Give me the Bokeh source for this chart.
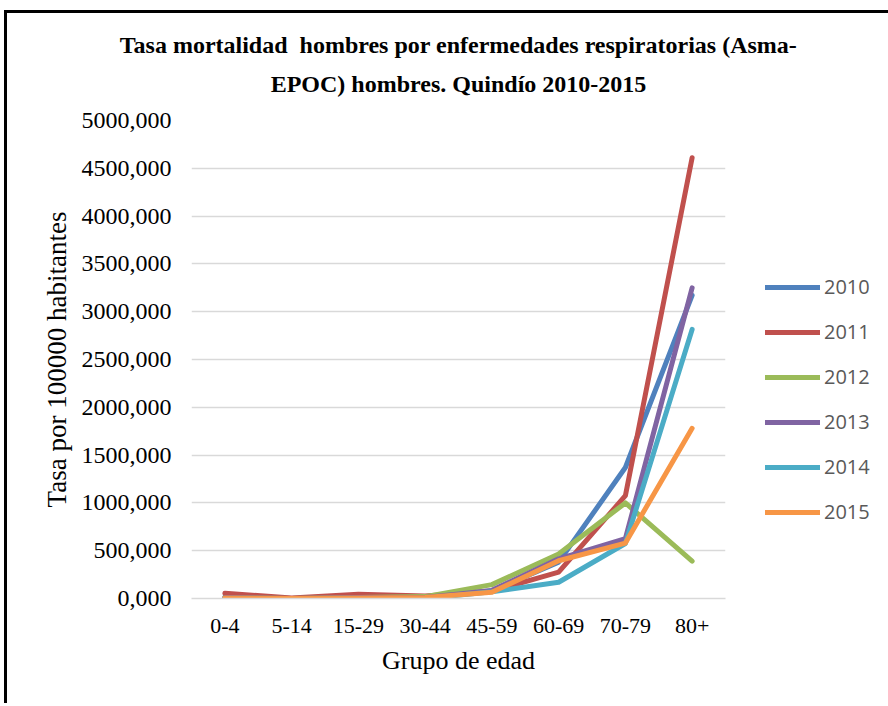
from bokeh.plotting import figure
from bokeh.models import (FactorRange, Range1d, FixedTicker, CustomJSTickFormatter,
                          Legend, LegendItem, Title)
from bokeh.embed import file_html
from bokeh.resources import INLINE

groups = ["0-4", "5-14", "15-29", "30-44", "45-59", "60-69", "70-79", "80+"]
years = ["2010", "2011", "2012", "2013", "2014", "2015"]
y2010 = [10, 0, 10, 10, 80, 380, 1370, 3170]
y2011 = [55, 5, 45, 25, 75, 275, 1075, 4610]
y2012 = [10, 0, 10, 20, 145, 465, 1000, 390]
y2013 = [10, 0, 10, 10, 85, 415, 625, 3250]
y2014 = [0, 0, 0, 0, 70, 170, 575, 2815]
y2015 = [5, 0, 5, 10, 65, 395, 580, 1780]
series = [y2010, y2011, y2012, y2013, y2014, y2015]
colors = ["#4F81BD", "#C0504D", "#9BBB59", "#8064A2", "#4BACC6", "#F79646"]
y_ticks = [0, 500, 1000, 1500, 2000, 2500, 3000, 3500, 4000, 4500, 5000]
title_lines = ["Tasa mortalidad\u00a0 hombres por enfermedades respiratorias (Asma-",
               "EPOC) hombres. Quindío 2010-2015"]

p = figure(x_range=FactorRange(*groups, range_padding=0),
           y_range=Range1d(0, 5000),
           frame_width=534, frame_height=478,
           min_border_left=184, min_border_right=162,
           min_border_top=107, min_border_bottom=105,
           output_backend="svg", toolbar_location=None)
p.x_range.factor_padding = 0
p.styles = {"border-top": "3px solid black", "border-left": "3px solid black",
            "margin-left": "4px", "margin-top": "10px"}
p.outline_line_color = None
p.background_fill_color = "white"
p.border_fill_color = "white"

# title: two centred lines (inner line added first)
p.add_layout(Title(text=title_lines[1], align="center", vertical_align="top",
                   text_font="Liberation Serif",
                   text_font_style="bold", text_font_size="24px", text_color="black",
                   standoff=44), "above")
p.add_layout(Title(text=title_lines[0], align="center", text_font="Liberation Serif",
                   text_font_style="bold", text_font_size="24px", text_color="black",
                   standoff=-18), "above")

# grid
p.xgrid.grid_line_color = None
p.ygrid.grid_line_color = "#D9D9D9"
p.ygrid.grid_line_width = 1.5
p.yaxis.ticker = FixedTicker(ticks=y_ticks)
p.yaxis.formatter = CustomJSTickFormatter(code="return tick.toFixed(3).replace('.', ',');")

for ax in (p.xaxis[0], p.yaxis[0]):
    ax.major_tick_line_color = None
    ax.minor_tick_line_color = None
    ax.major_label_text_font = "Liberation Serif"
    ax.major_label_text_color = "black"
    ax.axis_label_text_font = "Liberation Serif"
    ax.axis_label_text_font_style = "normal"
    ax.axis_label_text_color = "black"

p.yaxis.major_label_text_font_size = "24px"
p.xaxis.major_label_text_font_size = "22px"
p.yaxis.axis_label_text_font_size = "27px"
p.xaxis.axis_label_text_font_size = "26px"
p.yaxis.axis_line_color = None
p.yaxis.major_label_standoff = 14
p.yaxis.axis_label = "Tasa por 100000 habitantes"
p.yaxis.axis_label_standoff = 7
p.xaxis.axis_line_color = "#D9D9D9"
p.xaxis.axis_line_width = 1.5
p.xaxis.major_label_standoff = 14
p.xaxis.axis_label = "Grupo de edad"
p.xaxis.axis_label_standoff = 10

items = []
for yr, vals, c in zip(years, series, colors):
    r = p.line(groups, vals, line_color=c, line_width=5, line_cap="round", line_join="round")
    items.append(LegendItem(label=yr, renderers=[r]))

legend = Legend(items=items, location=(40, 73), orientation="vertical",
                glyph_width=55, glyph_height=20, label_height=20, spacing=18,
                label_standoff=4, padding=0, margin=0,
                border_line_color=None, background_fill_alpha=0,
                label_text_font="Open Sans", label_text_font_size="20px",
                label_text_color="#595959")
p.add_layout(legend, "right")

open("out.html", "w").write(file_html(p, INLINE))
